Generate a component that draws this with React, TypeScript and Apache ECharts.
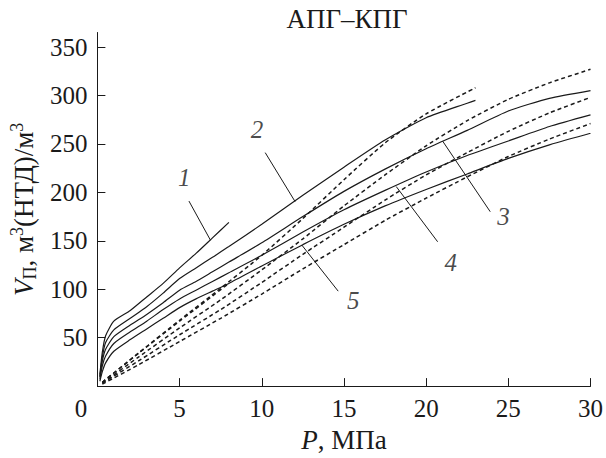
import React, { useEffect, useRef } from "react";
import * as echarts from "echarts";

const titleText = "АПГ–КПГ";
const yTickValues = [50, 100, 150, 200, 250, 300, 350];

// Solid curves (P, MPa -> V, m3/m3)
const solid1 = [[0.15, 12], [0.3, 35], [0.5, 52], [1, 67], [2, 78], [3, 92], [4, 106], [5, 122], [6, 137], [7, 153], [8, 169]];
const solid2 = [[0.15, 10], [0.3, 30], [0.5, 45], [1, 58], [2, 70], [3, 82], [4, 96], [5, 111], [6, 122], [7, 133], [8, 144], [10, 167], [12.5, 197], [15, 226], [17.5, 254], [20, 277], [22.5, 292], [23, 295]];
const solid3 = [[0.15, 9], [0.3, 26], [0.5, 38], [1, 51], [2, 63], [3, 74], [4, 86], [5, 99], [6, 108], [7, 118], [8, 128], [10, 148], [12.5, 175], [15, 201], [17.5, 224], [20, 245], [22.5, 264], [25, 284], [27.5, 297], [30, 305]];
const solid4 = [[0.15, 7], [0.3, 21], [0.5, 31], [1, 44], [2, 56], [3, 67], [4, 79], [5, 90], [6, 99], [7, 108], [8, 117], [10, 135], [12.5, 159], [15, 182], [17.5, 202], [20, 221], [22.5, 238], [25, 253], [27.5, 268], [30, 280]];
const solid5 = [[0.15, 5], [0.3, 15], [0.5, 24], [1, 36], [2, 48], [3, 59], [4, 70], [5, 81], [6, 90], [7, 98], [8, 106], [10, 124], [12.5, 146], [15, 167], [17.5, 186], [20, 203], [22.5, 219], [25, 235], [27.5, 249], [30, 261]];

// Dashed curves
const dashed1 = [[0.3, 4], [2.5, 34], [5, 67], [8, 106]];
const dashed2 = [[0.3, 4], [2.5, 34], [5, 68], [7.5, 101], [10, 135], [12.5, 173], [15, 213], [17.5, 251], [20, 281], [23, 308]];
const dashed3 = [[0.3, 3], [2.5, 30], [5, 60], [7.5, 89], [10, 120], [12.5, 152], [15, 186], [17.5, 218], [20, 248], [22.5, 274], [25, 296], [27.5, 313], [30, 327]];
const dashed4 = [[0.3, 3], [2.5, 26], [5, 53], [7.5, 79], [10, 107], [12.5, 136], [15, 164], [17.5, 192], [20, 218], [22.5, 241], [25, 263], [27.5, 282], [30, 298]];
const dashed5 = [[0.3, 2], [2.5, 22], [5, 46], [7.5, 70], [10, 95], [12.5, 121], [15, 146], [17.5, 171], [20, 194], [22.5, 216], [25, 237], [27.5, 255], [30, 271]];

// Curve number annotations (data coordinates)
const curveNames = ["1", "2", "3", "4", "5"];
const labelAt = [[5.28, 215], [9.71, 265], [24.7, 175], [21.5, 128], [15.56, 88]];
const leaderFrom = [[5.57, 191], [10.21, 241], [23.9, 180], [20.7, 149], [14.65, 98]];
const leaderTo = [[6.88, 150.6], [12.03, 190.4], [21.0, 253], [18.18, 206], [12.43, 145.7]];

const FONT = "'Liberation Serif', 'Times New Roman', Times, serif";
const INK = "#1a1a1a";

export default function App() {
  const ref = useRef<HTMLDivElement>(null);
  useEffect(() => {
    if (!ref.current) return;
    const chart = echarts.init(ref.current, null, { renderer: "svg" });
    const solids = [solid1, solid2, solid3, solid4, solid5];
    const dashes = [dashed1, dashed2, dashed3, dashed4, dashed5];
    const series: any[] = [];
    solids.forEach((d, i) =>
      series.push({
        type: "line",
        name: "solid" + (i + 1),
        data: d,
        showSymbol: false,
        smooth: 0.2,
        lineStyle: { color: INK, width: 1.2 },
        silent: true,
      })
    );
    dashes.forEach((d, i) =>
      series.push({
        type: "line",
        name: "dashed" + (i + 1),
        data: d,
        showSymbol: false,
        smooth: 0.2,
        lineStyle: { color: INK, width: 1.5, type: [4, 3] },
        silent: true,
      })
    );
    leaderFrom.forEach((p, i) =>
      series.push({
        type: "line",
        name: "leader" + (i + 1),
        data: [p, leaderTo[i]],
        showSymbol: false,
        lineStyle: { color: INK, width: 1 },
        silent: true,
      })
    );
    series.push({
      type: "scatter",
      name: "labels",
      symbolSize: 0,
      silent: true,
      data: labelAt.map((p, i) => ({ value: p, name: curveNames[i] })),
      label: {
        show: true,
        position: "inside",
        formatter: (p: any) => p.name,
        fontFamily: FONT,
        fontStyle: "italic",
        fontSize: 25,
        color: INK,
      },
    });

    chart.setOption({
      animation: false,
      backgroundColor: "#ffffff",
      title: {
        text: titleText,
        left: 342,
        top: 0,
        textAlign: "center",
        textStyle: { fontFamily: FONT, fontSize: 27, fontWeight: "normal", color: INK },
      },
      grid: { left: 94.5, right: 15.5, top: 32.5, bottom: 58 },
      xAxis: {
        type: "value",
        min: 0,
        max: 30,
        interval: 5,
        name: "{i|P}, МПа",
        nameLocation: "middle",
        nameGap: 29,
        nameTextStyle: {
          fontFamily: FONT,
          fontSize: 27,
          color: INK,
          rich: { i: { fontFamily: FONT, fontSize: 27, fontStyle: "italic", color: INK } },
        },
        axisLine: { show: true, lineStyle: { color: INK, width: 1 } },
        axisTick: { show: true, inside: true, length: 8, lineStyle: { color: INK } },
        splitLine: { show: false },
        axisLabel: {
          fontFamily: FONT,
          fontSize: 25,
          color: INK,
          margin: 10,
          formatter: (v: number) => (v === 0 ? "{z|0}" : String(v)),
          rich: { z: { fontFamily: FONT, fontSize: 25, color: INK, padding: [0, 33, 0, 0] } },
        },
      },
      yAxis: {
        type: "value",
        min: 0,
        max: 365,
        interval: 50,
        name: "{i|V}{s|П}, м{u|3}(НТД)/м{u|3}",
        nameLocation: "middle",
        nameGap: 55,
        nameRotate: 90,
        nameTextStyle: {
          fontFamily: FONT,
          fontSize: 27,
          color: INK,
          rich: {
            i: { fontFamily: FONT, fontSize: 27, fontStyle: "italic", color: INK },
            s: { fontFamily: FONT, fontSize: 18, color: INK, padding: [13, 0, 0, 0] },
            u: { fontFamily: FONT, fontSize: 18, color: INK, padding: [0, 0, 13, 0] },
          },
        },
        axisLine: { show: true, lineStyle: { color: INK, width: 1 } },
        axisTick: { show: true, inside: true, length: 8, lineStyle: { color: INK }, customValues: yTickValues },
        splitLine: { show: false },
        axisLabel: { fontFamily: FONT, fontSize: 25, color: INK, margin: 10, customValues: yTickValues },
      },
      series,
    });
    return () => chart.dispose();
  }, []);
  return <div ref={ref} style={{ width: 606, height: 458, position: "fixed", left: 0, top: 0 }} />;
}
